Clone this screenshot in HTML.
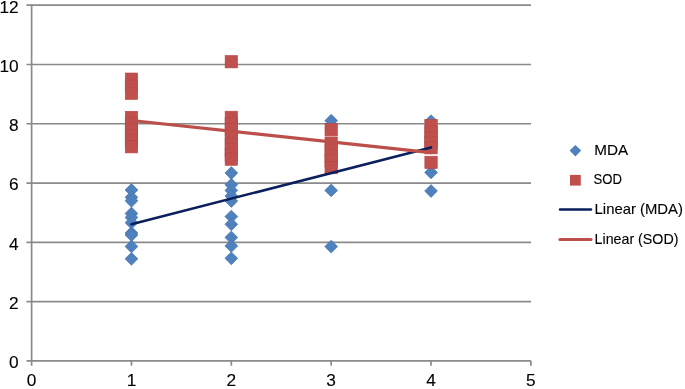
<!DOCTYPE html><html><head><meta charset="utf-8"><style>html,body{margin:0;padding:0;background:#fff;}svg{display:block;}text{font-family:"Liberation Sans",sans-serif;fill:#000;}.t{stroke:#000;stroke-width:0.12px;}svg{will-change:transform;}</style></head><body>
<svg width="685" height="389" viewBox="0 0 685 389">
<line x1="26.5" y1="360.90" x2="531" y2="360.90" stroke="#8a8a8a" stroke-width="1.7"/>
<line x1="26.5" y1="301.62" x2="531" y2="301.62" stroke="#8a8a8a" stroke-width="1.7"/>
<line x1="26.5" y1="242.33" x2="531" y2="242.33" stroke="#8a8a8a" stroke-width="1.7"/>
<line x1="26.5" y1="183.05" x2="531" y2="183.05" stroke="#8a8a8a" stroke-width="1.7"/>
<line x1="26.5" y1="123.77" x2="531" y2="123.77" stroke="#8a8a8a" stroke-width="1.7"/>
<line x1="26.5" y1="64.48" x2="531" y2="64.48" stroke="#8a8a8a" stroke-width="1.7"/>
<line x1="26.5" y1="5.20" x2="531" y2="5.20" stroke="#8a8a8a" stroke-width="1.7"/>
<line x1="31.6" y1="4.40" x2="31.6" y2="365.7" stroke="#8a8a8a" stroke-width="1.7"/>
<line x1="131.46" y1="360.90" x2="131.46" y2="365.7" stroke="#8a8a8a" stroke-width="1.7"/>
<line x1="231.32" y1="360.90" x2="231.32" y2="365.7" stroke="#8a8a8a" stroke-width="1.7"/>
<line x1="331.18" y1="360.90" x2="331.18" y2="365.7" stroke="#8a8a8a" stroke-width="1.7"/>
<line x1="431.04" y1="360.90" x2="431.04" y2="365.7" stroke="#8a8a8a" stroke-width="1.7"/>
<line x1="530.90" y1="360.90" x2="530.90" y2="365.7" stroke="#8a8a8a" stroke-width="1.7"/>
<text x="18.7" y="368.30" font-size="17.3" text-anchor="end" class="t">0</text>
<text x="18.7" y="309.02" font-size="17.3" text-anchor="end" class="t">2</text>
<text x="18.7" y="249.73" font-size="17.3" text-anchor="end" class="t">4</text>
<text x="18.7" y="190.45" font-size="17.3" text-anchor="end" class="t">6</text>
<text x="18.7" y="131.17" font-size="17.3" text-anchor="end" class="t">8</text>
<text x="18.7" y="71.88" font-size="17.3" text-anchor="end" class="t">10</text>
<text x="18.7" y="12.60" font-size="17.3" text-anchor="end" class="t">12</text>
<text x="31.60" y="386" font-size="17.3" text-anchor="middle" class="t">0</text>
<text x="131.46" y="386" font-size="17.3" text-anchor="middle" class="t">1</text>
<text x="231.32" y="386" font-size="17.3" text-anchor="middle" class="t">2</text>
<text x="331.18" y="386" font-size="17.3" text-anchor="middle" class="t">3</text>
<text x="431.04" y="386" font-size="17.3" text-anchor="middle" class="t">4</text>
<text x="530.90" y="386" font-size="17.3" text-anchor="middle" class="t">5</text>
<path d="M131.46 183.60L137.86 190.00L131.46 196.40L125.06 190.00Z" fill="#4f81bd" stroke="#4676b0" stroke-width="0.7"/>
<path d="M131.46 190.90L137.86 197.30L131.46 203.70L125.06 197.30Z" fill="#4f81bd" stroke="#4676b0" stroke-width="0.7"/>
<path d="M131.46 194.40L137.86 200.80L131.46 207.20L125.06 200.80Z" fill="#4f81bd" stroke="#4676b0" stroke-width="0.7"/>
<path d="M131.46 207.10L137.86 213.50L131.46 219.90L125.06 213.50Z" fill="#4f81bd" stroke="#4676b0" stroke-width="0.7"/>
<path d="M131.46 211.10L137.86 217.50L131.46 223.90L125.06 217.50Z" fill="#4f81bd" stroke="#4676b0" stroke-width="0.7"/>
<path d="M131.46 216.30L137.86 222.70L131.46 229.10L125.06 222.70Z" fill="#4f81bd" stroke="#4676b0" stroke-width="0.7"/>
<path d="M131.46 226.60L137.86 233.00L131.46 239.40L125.06 233.00Z" fill="#4f81bd" stroke="#4676b0" stroke-width="0.7"/>
<path d="M131.46 228.60L137.86 235.00L131.46 241.40L125.06 235.00Z" fill="#4f81bd" stroke="#4676b0" stroke-width="0.7"/>
<path d="M131.46 240.10L137.86 246.50L131.46 252.90L125.06 246.50Z" fill="#4f81bd" stroke="#4676b0" stroke-width="0.7"/>
<path d="M131.46 252.40L137.86 258.80L131.46 265.20L125.06 258.80Z" fill="#4f81bd" stroke="#4676b0" stroke-width="0.7"/>
<path d="M231.32 166.60L237.72 173.00L231.32 179.40L224.92 173.00Z" fill="#4f81bd" stroke="#4676b0" stroke-width="0.7"/>
<path d="M231.32 178.30L237.72 184.70L231.32 191.10L224.92 184.70Z" fill="#4f81bd" stroke="#4676b0" stroke-width="0.7"/>
<path d="M231.32 184.00L237.72 190.40L231.32 196.80L224.92 190.40Z" fill="#4f81bd" stroke="#4676b0" stroke-width="0.7"/>
<path d="M231.32 189.60L237.72 196.00L231.32 202.40L224.92 196.00Z" fill="#4f81bd" stroke="#4676b0" stroke-width="0.7"/>
<path d="M231.32 194.60L237.72 201.00L231.32 207.40L224.92 201.00Z" fill="#4f81bd" stroke="#4676b0" stroke-width="0.7"/>
<path d="M231.32 210.20L237.72 216.60L231.32 223.00L224.92 216.60Z" fill="#4f81bd" stroke="#4676b0" stroke-width="0.7"/>
<path d="M231.32 217.90L237.72 224.30L231.32 230.70L224.92 224.30Z" fill="#4f81bd" stroke="#4676b0" stroke-width="0.7"/>
<path d="M231.32 231.00L237.72 237.40L231.32 243.80L224.92 237.40Z" fill="#4f81bd" stroke="#4676b0" stroke-width="0.7"/>
<path d="M231.32 239.50L237.72 245.90L231.32 252.30L224.92 245.90Z" fill="#4f81bd" stroke="#4676b0" stroke-width="0.7"/>
<path d="M231.32 251.90L237.72 258.30L231.32 264.70L224.92 258.30Z" fill="#4f81bd" stroke="#4676b0" stroke-width="0.7"/>
<path d="M331.18 114.30L337.58 120.70L331.18 127.10L324.78 120.70Z" fill="#4f81bd" stroke="#4676b0" stroke-width="0.7"/>
<path d="M331.18 184.00L337.58 190.40L331.18 196.80L324.78 190.40Z" fill="#4f81bd" stroke="#4676b0" stroke-width="0.7"/>
<path d="M331.18 240.20L337.58 246.60L331.18 253.00L324.78 246.60Z" fill="#4f81bd" stroke="#4676b0" stroke-width="0.7"/>
<path d="M431.04 114.70L437.44 121.10L431.04 127.50L424.64 121.10Z" fill="#4f81bd" stroke="#4676b0" stroke-width="0.7"/>
<path d="M431.04 166.00L437.44 172.40L431.04 178.80L424.64 172.40Z" fill="#4f81bd" stroke="#4676b0" stroke-width="0.7"/>
<path d="M431.04 184.60L437.44 191.00L431.04 197.40L424.64 191.00Z" fill="#4f81bd" stroke="#4676b0" stroke-width="0.7"/>
<rect x="125.26" y="73.00" width="12.40" height="12.40" fill="#c0504d" stroke="#b34744" stroke-width="0.6"/>
<rect x="125.26" y="80.10" width="12.40" height="12.40" fill="#c0504d" stroke="#b34744" stroke-width="0.6"/>
<rect x="125.26" y="87.10" width="12.40" height="12.40" fill="#c0504d" stroke="#b34744" stroke-width="0.6"/>
<rect x="125.26" y="111.30" width="12.40" height="12.40" fill="#c0504d" stroke="#b34744" stroke-width="0.6"/>
<rect x="125.26" y="117.80" width="12.40" height="12.40" fill="#c0504d" stroke="#b34744" stroke-width="0.6"/>
<rect x="125.26" y="123.80" width="12.40" height="12.40" fill="#c0504d" stroke="#b34744" stroke-width="0.6"/>
<rect x="125.26" y="129.80" width="12.40" height="12.40" fill="#c0504d" stroke="#b34744" stroke-width="0.6"/>
<rect x="125.26" y="134.80" width="12.40" height="12.40" fill="#c0504d" stroke="#b34744" stroke-width="0.6"/>
<rect x="125.26" y="140.50" width="12.40" height="12.40" fill="#c0504d" stroke="#b34744" stroke-width="0.6"/>
<rect x="225.12" y="55.50" width="12.40" height="12.40" fill="#c0504d" stroke="#b34744" stroke-width="0.6"/>
<rect x="225.12" y="111.20" width="12.40" height="12.40" fill="#c0504d" stroke="#b34744" stroke-width="0.6"/>
<rect x="225.12" y="117.80" width="12.40" height="12.40" fill="#c0504d" stroke="#b34744" stroke-width="0.6"/>
<rect x="225.12" y="123.80" width="12.40" height="12.40" fill="#c0504d" stroke="#b34744" stroke-width="0.6"/>
<rect x="225.12" y="130.80" width="12.40" height="12.40" fill="#c0504d" stroke="#b34744" stroke-width="0.6"/>
<rect x="225.12" y="137.80" width="12.40" height="12.40" fill="#c0504d" stroke="#b34744" stroke-width="0.6"/>
<rect x="225.12" y="143.80" width="12.40" height="12.40" fill="#c0504d" stroke="#b34744" stroke-width="0.6"/>
<rect x="225.12" y="148.80" width="12.40" height="12.40" fill="#c0504d" stroke="#b34744" stroke-width="0.6"/>
<rect x="225.12" y="152.90" width="12.40" height="12.40" fill="#c0504d" stroke="#b34744" stroke-width="0.6"/>
<rect x="324.98" y="123.40" width="12.40" height="12.40" fill="#c0504d" stroke="#b34744" stroke-width="0.6"/>
<rect x="324.98" y="136.90" width="12.40" height="12.40" fill="#c0504d" stroke="#b34744" stroke-width="0.6"/>
<rect x="324.98" y="143.80" width="12.40" height="12.40" fill="#c0504d" stroke="#b34744" stroke-width="0.6"/>
<rect x="324.98" y="149.80" width="12.40" height="12.40" fill="#c0504d" stroke="#b34744" stroke-width="0.6"/>
<rect x="324.98" y="154.80" width="12.40" height="12.40" fill="#c0504d" stroke="#b34744" stroke-width="0.6"/>
<rect x="324.98" y="161.40" width="12.40" height="12.40" fill="#c0504d" stroke="#b34744" stroke-width="0.6"/>
<rect x="424.84" y="119.30" width="12.40" height="12.40" fill="#c0504d" stroke="#b34744" stroke-width="0.6"/>
<rect x="424.84" y="125.80" width="12.40" height="12.40" fill="#c0504d" stroke="#b34744" stroke-width="0.6"/>
<rect x="424.84" y="131.80" width="12.40" height="12.40" fill="#c0504d" stroke="#b34744" stroke-width="0.6"/>
<rect x="424.84" y="136.80" width="12.40" height="12.40" fill="#c0504d" stroke="#b34744" stroke-width="0.6"/>
<rect x="424.84" y="141.50" width="12.40" height="12.40" fill="#c0504d" stroke="#b34744" stroke-width="0.6"/>
<rect x="424.84" y="156.20" width="12.40" height="12.40" fill="#c0504d" stroke="#b34744" stroke-width="0.6"/>
<line x1="131.46" y1="224.2" x2="431.04" y2="147.4" stroke="#0a1f5c" stroke-width="2.6" stroke-linecap="round"/>
<line x1="131.46" y1="120.5" x2="431.04" y2="152.6" stroke="#bc4f4c" stroke-width="3.2" stroke-linecap="round"/>
<path d="M575.4 144.9L581.2 150.6L575.4 156.4L569.6 150.6Z" fill="#4f81bd"/>
<rect x="570" y="174.9" width="10.8" height="10.7" fill="#c0504d"/>
<line x1="560" y1="209.6" x2="591" y2="209.6" stroke="#0a1f5c" stroke-width="2.5" stroke-linecap="round"/>
<line x1="560" y1="239.5" x2="591" y2="239.5" stroke="#bc4f4c" stroke-width="3.1" stroke-linecap="round"/>
<text x="594.2" y="154.8" font-size="14.5" textLength="33.9" lengthAdjust="spacingAndGlyphs" class="t">MDA</text>
<text x="593.6" y="184.2" font-size="14.5" textLength="28.4" lengthAdjust="spacingAndGlyphs" class="t">SOD</text>
<text x="594.6" y="214.3" font-size="14.5" textLength="88.3" lengthAdjust="spacingAndGlyphs" class="t">Linear (MDA)</text>
<text x="594.6" y="244.3" font-size="14.5" textLength="83.8" lengthAdjust="spacingAndGlyphs" class="t">Linear (SOD)</text>
</svg></body></html>
